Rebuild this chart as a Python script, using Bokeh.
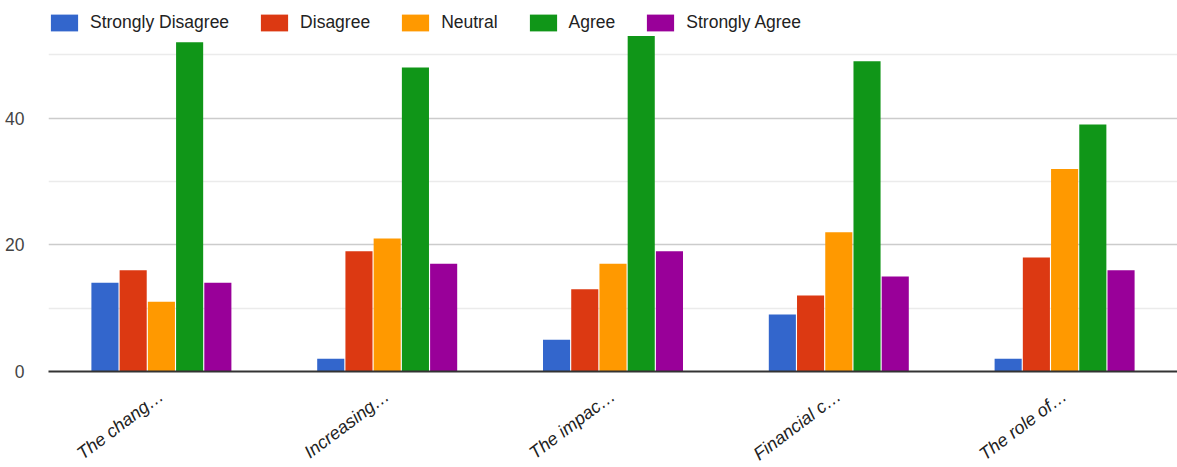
import math
from bokeh.plotting import figure
from bokeh.models import FactorRange, Range1d, FixedTicker, Legend, LegendItem
from bokeh.transform import dodge
from bokeh.embed import file_html
from bokeh.resources import INLINE

categories = ["The chang\u2026", "Increasing\u2026", "The impac\u2026", "Financial c\u2026", "The role of\u2026"]
series_names = ["Strongly Disagree", "Disagree", "Neutral", "Agree", "Strongly Agree"]
strongly_disagree = [14, 2, 5, 9, 2]
disagree = [16, 19, 13, 12, 18]
neutral = [11, 21, 17, 22, 32]
agree = [52, 48, 53, 49, 39]
strongly_agree = [14, 17, 19, 15, 16]
y_ticks = [0, 20, 40]
y_minor_ticks = [10, 30, 50]

colors = ["#3366cc", "#dc3912", "#ff9900", "#109618", "#990099"]
series_values = [strongly_disagree, disagree, neutral, agree, strongly_agree]

FONT = "Liberation Sans"

p = figure(
    frame_width=1129, frame_height=371,
    x_range=FactorRange(factors=categories, range_padding=0),
    y_range=Range1d(0, 58.6),
    output_backend="svg", toolbar_location=None,
    min_border_left=48, min_border_right=0, min_border_top=0, min_border_bottom=96,
)
p.outline_line_color = None

data = {"cat": categories}
for name, vals in zip(series_names, series_values):
    data[name] = vals

offsets = [-0.25, -0.125, 0.0, 0.125, 0.25]
renderers = []
for name, col, off in zip(series_names, colors, offsets):
    r = p.vbar(x=dodge("cat", off, range=p.x_range), top=name, width=0.12,
               source=data, fill_color=col, line_color=None)
    renderers.append(r)

# axes
p.yaxis.ticker = FixedTicker(ticks=y_ticks, minor_ticks=y_minor_ticks)
p.yaxis.axis_line_color = None
p.yaxis.major_tick_line_color = None
p.yaxis.minor_tick_line_color = None
p.yaxis.major_label_standoff = 18
p.yaxis.major_label_text_font = FONT
p.yaxis.major_label_text_font_size = "17.5px"
p.yaxis.major_label_text_color = "#444444"

p.xaxis.axis_line_color = "#333333"
p.xaxis.axis_line_width = 2
p.xaxis.major_tick_line_color = None
p.xaxis.minor_tick_line_color = None
p.xaxis.major_label_orientation = math.radians(37)
p.xaxis.major_label_standoff = 16
p.xaxis.major_label_text_font = FONT
p.xaxis.major_label_text_font_style = "italic"
p.xaxis.major_label_text_font_size = "18px"
p.xaxis.major_label_text_color = "#222222"

p.xgrid.grid_line_color = None
p.ygrid.grid_line_color = "#cccccc"
p.ygrid.grid_line_width = 1.5
p.ygrid.minor_grid_line_color = "#ebebeb"
p.ygrid.minor_grid_line_width = 1.5

items = [LegendItem(label=n, renderers=[r]) for n, r in zip(series_names, renderers)]
legend = Legend(items=items, orientation="horizontal", location=(-1, 338),
                padding=0, margin=0, spacing=28, label_standoff=9,
                glyph_width=34, glyph_height=21,
                border_line_color=None, background_fill_alpha=0,
                label_text_font=FONT, label_text_font_size="17.5px",
                label_text_color="#222222")
p.add_layout(legend, "center")

open("out.html", "w").write(file_html(p, INLINE))
